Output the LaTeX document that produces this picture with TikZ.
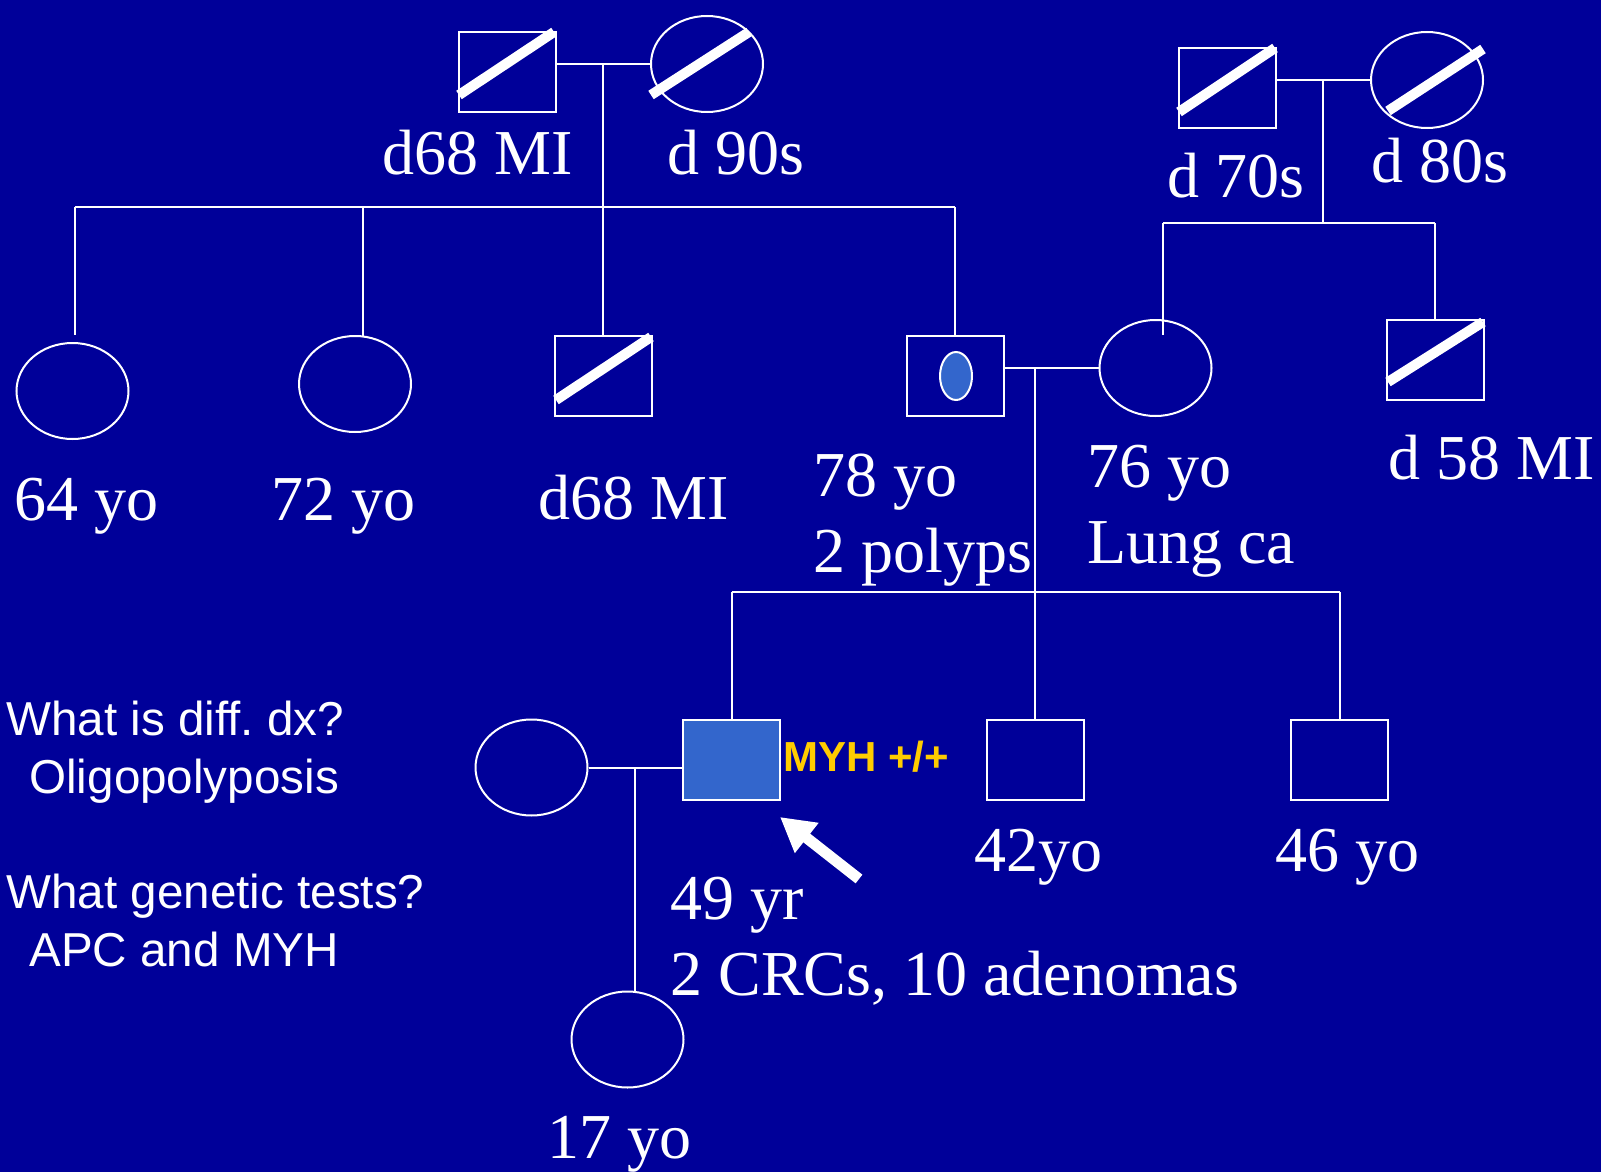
\documentclass[tikz,border=0pt]{standalone}
\usepackage{fontspec}
\setmainfont{Liberation Serif}
\newfontfamily\arialfont{Liberation Sans}
\usetikzlibrary{shapes.geometric,arrows.meta}
\definecolor{bgblue}{RGB}{0,0,153}
\definecolor{fillb}{RGB}{51,102,204}
\definecolor{myhcol}{RGB}{255,204,0}
\tikzset{
  ln/.style={white, line width=1pt},
  sq/.style={rectangle, draw=white, line width=1pt, minimum width=48.5pt, minimum height=40pt, inner sep=0pt},
  circ/.style={ellipse, draw=white, line width=1pt, minimum width=56pt, minimum height=48pt, inner sep=0pt},
  slashbar/.style={white, line width=5pt},
  lbl/.style={text=white, font=\fontsize{32}{36}\selectfont, inner sep=0pt, anchor=base west},
  qlbl/.style={text=white, font=\arialfont\fontsize{23.8}{27}\selectfont, inner sep=0pt, anchor=base west},
}
\begin{document}
\begin{tikzpicture}[x=0.5pt, y=-0.5pt]
\useasboundingbox (0,0) rectangle (1601,1172);
\fill[bgblue] (0,0) rectangle (1601,1172);

% ---------- paternal grandparents ----------
\node[sq] (gf1) at (507.5,72) {};
\node[circ] (gm1) at (707,64) {};
\draw[slashbar] (459,95) -- (554,32);
\draw[slashbar] (651,95) -- (749,32);
\draw[ln] (gf1.east |- gm1.west) -- (gm1.west);
\coordinate (m1) at (603,64);
\coordinate (s1l) at (75,207);
\coordinate (s1b) at (363,207);
\coordinate (s1r) at (955,207);
\node[lbl] (tgf1) at (382,175) {d68 MI};
\node[lbl] (tgm1) at (667,175) {d 90s};

% ---------- maternal grandparents ----------
\node[sq] (gf2) at (1227.5,88) {};
\node[circ] (gm2) at (1427,80) {};
\draw[slashbar] (1179,112) -- (1275,48);
\draw[slashbar] (1388,111) -- (1483,49);
\draw[ln] (gf2.east |- gm2.west) -- (gm2.west);
\coordinate (m2) at (1323,80);
\coordinate (s2) at (1323,223);
\coordinate (s2l) at (1163,223);
\coordinate (s2r) at (1435,223);
\node[lbl] (tgf2) at (1167,198) {d 70s};
\node[lbl] (tgm2) at (1371,183) {d 80s};

% ---------- second generation ----------
\node[circ] (a1) at (72.5,391) {};
\node[circ] (a2) at (355,384) {};
\node[sq] (a3) at (603,376) {};
\draw[slashbar] (556,400) -- (651,337);
\node[sq] (f) at (955,376) {};
\node[ellipse, draw=white, line width=1pt, fill=fillb, minimum width=16pt, minimum height=24pt, inner sep=0pt] (fmark) at (956,376) {};
\node[circ] (mo) at (1155.5,368) {};
\node[sq] (u) at (1435,359.5) {};
\draw[slashbar] (1388,382) -- (1483,322);

\coordinate (a1t) at (75,335);
\coordinate (a2t) at (363,336);
\coordinate (mot) at (1163,335);

\draw[ln] (s1l) -- (s1r);
\draw[ln] (m1) -- (a3.north);
\draw[ln] (s1l) -- (a1t);
\draw[ln] (s1b) -- (a2t);
\draw[ln] (s1r) -- (f.north);
\draw[ln] (m2) -- (s2);
\draw[ln] (s2l) -- (s2r);
\draw[ln] (s2l) -- (mot);
\draw[ln] (s2r) -- (u.north);

\node[lbl] (ta1) at (14,520) {64 yo};
\node[lbl] (ta2) at (271,520) {72 yo};
\node[lbl] (ta3) at (538,519) {d68 MI};
\node[lbl] (tf1) at (813,496) {78 yo};
\node[lbl] (tf2) at (813,572) {2 polyps};
\node[lbl] (tmo1) at (1087,487) {76 yo};
\node[lbl] (tmo2) at (1087,563) {Lung ca};
\node[lbl] (tu) at (1388,479) {d 58 MI};

% ---------- parents' marriage and children ----------
\draw[ln] (f.east |- mo.west) -- (mo.west);
\coordinate (m3) at (1035,368);
\coordinate (s3) at (1035,592);
\coordinate (s3l) at (731.5,592);
\coordinate (s3r) at (1339.5,592);
\draw[ln] (m3) -- (s3);
\draw[ln] (s3l) -- (s3r);

\node[sq, fill=fillb] (p) at (731.5,760) {};
\node[sq] (b1) at (1035,760) {};
\node[sq] (b2) at (1339.5,760) {};
\node[circ] (sp) at (531.5,767.5) {};
\node[circ] (d) at (627.5,1039.5) {};

\draw[ln] (s3l) -- (p.north);
\draw[ln] (s3) -- (b1.north);
\draw[ln] (s3r) -- (b2.north);
\draw[ln] (sp.east) -- (p.west |- sp.east);
\coordinate (m4) at (635,767.5);
\draw[ln] (m4) -- (m4 |- d.north);

\node[text=myhcol, font=\arialfont\bfseries\fontsize{21}{24}\selectfont, inner sep=0pt, anchor=base west] (myh) at (783,771) {MYH +/+};

\coordinate (arrtail) at (859,879);
\coordinate (arrtip) at (780,817);
\draw[white, line width=5.5pt, -{Triangle[width=18pt,length=17pt]}] (arrtail) -- (arrtip);

\node[lbl] (tp1) at (670,919) {49 yr};
\node[lbl] (tp2) at (670,995) {2 CRCs, 10 adenomas};
\node[lbl] (tb1) at (974,871) {42yo};
\node[lbl] (tb2) at (1275,871) {46 yo};
\node[lbl] (td) at (547,1158) {17 yo};

% ---------- questions ----------
\node[qlbl] (q1) at (6,735) {What is diff.\ dx?};
\node[qlbl] (q2) at (29,793) {Oligopolyposis};
\node[qlbl] (q3) at (6,908) {What genetic tests?};
\node[qlbl] (q4) at (29,966) {APC and MYH};
\end{tikzpicture}
\end{document}
